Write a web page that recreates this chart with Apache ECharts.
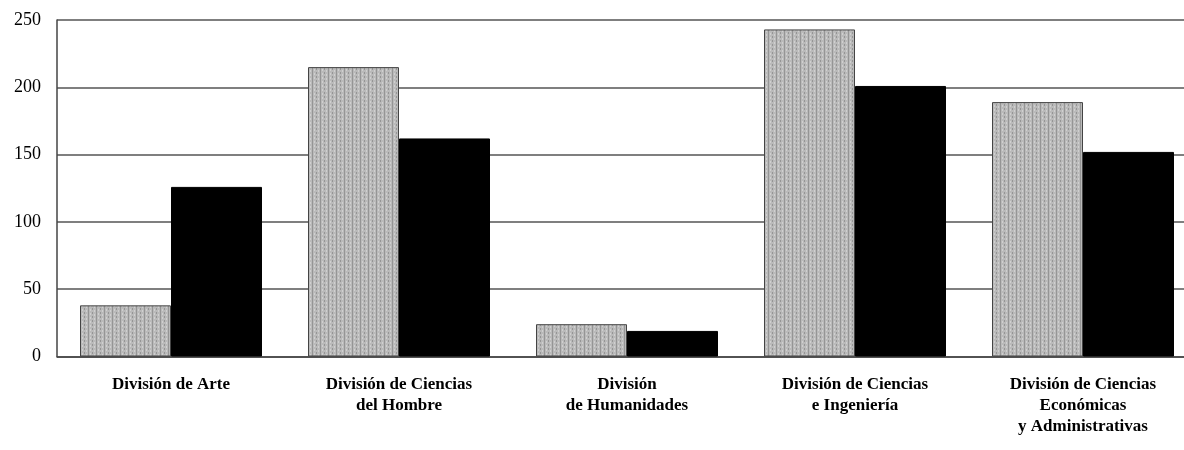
<!DOCTYPE html>
<html>
<head>
<meta charset="utf-8">
<style>
  html, body { margin: 0; padding: 0; background: #fff; overflow: hidden; width: 1184px; height: 450px; }
  /* the plot runs a little past the right edge of the page */
  #chart { width: 1197px; height: 450px; }
</style>
<script src="https://cdn.jsdelivr.net/npm/echarts@6/dist/echarts.min.js"></script>
</head>
<body>
<div id="chart"></div>
<script>
// Divisiones académicas (eje de categorías)
const categories = [
  'División de Arte',
  'División de Ciencias\ndel Hombre',
  'División\nde Humanidades',
  'División de Ciencias\ne Ingeniería',
  'División de Ciencias\nEconómicas\ny Administrativas'
];
// Serie gris y serie negra
const seriesGris = [38, 215, 24, 243, 189];
const seriesNegra = [126, 162, 19, 201, 152];
const yTicks = [0, 50, 100, 150, 200, 250];

// Trama gris punteada para las barras claras
function grayPattern() {
  const c = document.createElement('canvas');
  c.width = 8; c.height = 4;
  const g = c.getContext('2d');
  g.fillStyle = '#bababa';
  g.fillRect(0, 0, 8, 4);
  g.fillStyle = '#959595';
  g.fillRect(0, 0, 1, 4);
  g.fillRect(4, 0, 1, 2);
  g.fillStyle = '#d0d0d0';
  g.fillRect(2, 1, 1, 2);
  g.fillRect(6, 2, 1, 2);
  return c;
}

const chart = echarts.init(document.getElementById('chart'), null, { renderer: 'canvas' });
chart.setOption({
  animation: false,
  backgroundColor: '#ffffff',
  grid: { left: 57, right: 0, top: 20, bottom: 93.5, containLabel: false },
  xAxis: {
    type: 'category',
    data: categories,
    axisTick: { show: false },
    axisLine: { lineStyle: { color: '#444', width: 1.5 } },
    axisLabel: {
      margin: 18,
      interval: 0,
      fontFamily: 'Liberation Serif',
      fontWeight: 'bold',
      fontSize: 17,
      lineHeight: 21,
      color: '#000'
    }
  },
  yAxis: {
    type: 'value',
    min: 0,
    max: 250,
    interval: 50,
    axisLine: { show: true, lineStyle: { color: '#444', width: 1.5 } },
    axisTick: { show: false },
    splitLine: { lineStyle: { color: '#555', width: 1.5 } },
    axisLabel: {
      margin: 16,
      fontFamily: 'Liberation Serif',
      fontSize: 18,
      color: '#000',
      formatter: v => (yTicks.includes(v) ? String(v) : '')
    }
  },
  series: [
    {
      type: 'bar',
      data: seriesGris,
      barWidth: 91,
      barGap: '0%',
      itemStyle: {
        color: { image: grayPattern(), repetition: 'repeat' },
        borderColor: '#444',
        borderWidth: 1
      }
    },
    {
      type: 'bar',
      data: seriesNegra,
      barWidth: 91,
      barGap: '0%',
      itemStyle: { color: '#000', borderColor: '#000', borderWidth: 1 }
    }
  ]
});
</script>
</body>
</html>
